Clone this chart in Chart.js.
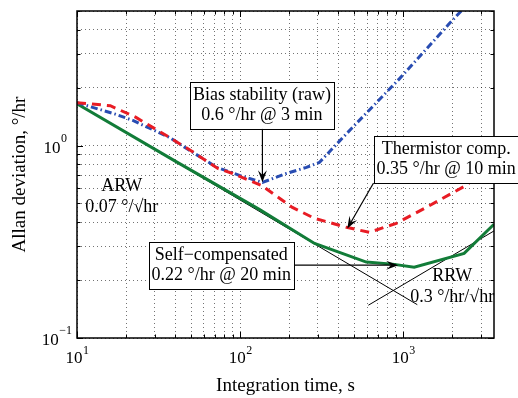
<!DOCTYPE html>
<html>
<head>
<meta charset="utf-8">
<script src="https://cdn.jsdelivr.net/npm/chart.js@4"></script>
<style>
    html, body { margin: 0; padding: 0; background: #fff; }
</style>
</head>
<body>
<canvas id="myChart" width="518" height="398"></canvas>
<script>
// raw gyro (blue dash-dot)
var tauRaw = [10, 17, 22, 37, 47, 72, 99, 137, 192, 255, 306, 448, 946, 1911, 3600];
var sigmaRaw = [1.67, 1.46, 1.35, 1.10, 0.965, 0.77, 0.70, 0.643, 0.716, 0.77, 0.817, 1.15, 2.22, 4.29, 7.6];

// thermistor compensated (red dashed)
var tauTherm = [10, 16, 23, 37, 50, 73, 90, 135, 209, 285, 448, 619, 906, 1383, 2427, 3600];
var sigmaTherm = [1.67, 1.61, 1.40, 1.10, 0.94, 0.76, 0.716, 0.621, 0.477, 0.419, 0.376, 0.354, 0.394, 0.477, 0.621, 0.82];

// self-compensated (green)
var tauSelf = [10, 40, 131, 286, 594, 857, 1167, 2361, 3600];
var sigmaSelf = [1.65, 0.83, 0.466, 0.31, 0.248, 0.242, 0.233, 0.275, 0.39];

// slope lines
var arwTau = [10, 1219];
var arwSigma = [1.65, 0.149];
var rrwTau = [611, 3600];
var rrwSigma = [0.148, 0.36];

// ticks
var xGridTicks = [10, 20, 30, 40, 50, 60, 70, 80, 90, 100, 200, 300, 400, 500, 600, 700, 800, 900, 1000, 2000, 3000];
var yGridTicks = [0.1, 0.2, 0.3, 0.4, 0.5, 0.6, 0.7, 0.8, 0.9, 1, 2, 3, 4, 5];
var xMajor = [10, 100, 1000];
var xExp = ['1', '2', '3'];
var yMajor = [0.1, 1];
var yExp = ['\u22121', '0'];

// annotations
var boxNotes = [
    {lines: ['Bias stability (raw)', '0.6 \u00b0/hr @ 3 min'], at: [136, 1.62], tip: [137, 0.645], from: 'bottom'},
    {lines: ['Thermistor comp.', '0.35 \u00b0/hr @ 10 min'], at: [1833, 0.846], tip: [454, 0.371], from: 'bottomLeft'},
    {lines: ['Self\u2212compensated', '0.22 \u00b0/hr @ 20 min'], at: [76.6, 0.239], tip: [931, 0.239], from: 'right'}
];
var freeNotes = [
    {lines: ['ARW', '0.07 \u00b0/\u221ahr'], at: [18.8, 0.544]},
    {lines: ['RRW', '0.3 \u00b0/hr/\u221ahr'], at: [1995, 0.185]}
];

var serif = '"Liberation Serif", "Times New Roman", serif';

function pts(xs, ys) {
    return xs.map(function (x, i) { return {x: x, y: ys[i]}; });
}

function arrow(ctx, x1, y1, x2, y2) {
    var a = Math.atan2(y2 - y1, x2 - x1), len = 12, w = 4.5;
    ctx.beginPath();
    ctx.moveTo(x1, y1);
    ctx.lineTo(x2 - Math.cos(a) * len * 0.6, y2 - Math.sin(a) * len * 0.6);
    ctx.stroke();
    ctx.beginPath();
    ctx.moveTo(x2, y2);
    ctx.lineTo(x2 - Math.cos(a) * len + Math.sin(a) * w, y2 - Math.sin(a) * len - Math.cos(a) * w);
    ctx.lineTo(x2 - Math.cos(a) * len * 0.6, y2 - Math.sin(a) * len * 0.6);
    ctx.lineTo(x2 - Math.cos(a) * len - Math.sin(a) * w, y2 - Math.sin(a) * len + Math.cos(a) * w);
    ctx.closePath();
    ctx.fill();
}

var decorations = {
    id: 'decorations',
    afterDraw: function (chart) {
        var ctx = chart.ctx, area = chart.chartArea;
        var xs = chart.scales.x, ys = chart.scales.y;
        ctx.save();

        // frame
        ctx.strokeStyle = '#000';
        ctx.lineWidth = 1.5;
        ctx.strokeRect(area.left, area.top, area.right - area.left, area.bottom - area.top);

        // inward ticks
        ctx.lineWidth = 1;
        xGridTicks.forEach(function (v) {
            var px = Math.round(xs.getPixelForValue(v)) + 0.5;
            var l = xMajor.indexOf(v) >= 0 ? 6 : 3.5;
            ctx.beginPath();
            ctx.moveTo(px, area.bottom); ctx.lineTo(px, area.bottom - l);
            ctx.moveTo(px, area.top); ctx.lineTo(px, area.top + l);
            ctx.stroke();
        });
        yGridTicks.forEach(function (v) {
            var py = Math.round(ys.getPixelForValue(v)) + 0.5;
            var l = yMajor.indexOf(v) >= 0 ? 6 : 3.5;
            ctx.beginPath();
            ctx.moveTo(area.left, py); ctx.lineTo(area.left + l, py);
            ctx.moveTo(area.right, py); ctx.lineTo(area.right - l, py);
            ctx.stroke();
        });

        // tick labels 10^n
        ctx.fillStyle = '#000';
        ctx.textBaseline = 'alphabetic';
        xMajor.forEach(function (v, i) {
            var px = xs.getPixelForValue(v);
            ctx.font = '17px ' + serif;
            var wb = ctx.measureText('10').width;
            ctx.font = '12px ' + serif;
            var we = ctx.measureText(xExp[i]).width;
            var x0 = px - (wb + we) / 2;
            ctx.font = '17px ' + serif;
            ctx.textAlign = 'left';
            ctx.fillText('10', x0, area.bottom + 25);
            ctx.font = '12px ' + serif;
            ctx.fillText(xExp[i], x0 + wb + 0.5, area.bottom + 16);
        });
        yMajor.forEach(function (v, i) {
            var py = ys.getPixelForValue(v);
            ctx.font = '12px ' + serif;
            var we = ctx.measureText(yExp[i]).width;
            ctx.textAlign = 'left';
            var xe = area.left - 10 - we + (i === 0 ? 5 : 0);
            ctx.fillText(yExp[i], xe, py - 4);
            ctx.font = '17px ' + serif;
            ctx.textAlign = 'right';
            ctx.fillText('10', xe - 0.5, py + 7);
        });

        // plain text notes
        ctx.font = '18px ' + serif;
        ctx.textAlign = 'center';
        ctx.textBaseline = 'middle';
        freeNotes.forEach(function (n) {
            var cx = xs.getPixelForValue(n.at[0]), cy = ys.getPixelForValue(n.at[1]);
            ctx.fillText(n.lines[0], cx, cy - 10.5);
            ctx.fillText(n.lines[1], cx, cy + 10.5);
        });

        // boxed notes with arrows
        boxNotes.forEach(function (n) {
            var cx = xs.getPixelForValue(n.at[0]), cy = ys.getPixelForValue(n.at[1]);
            var w = Math.max(ctx.measureText(n.lines[0]).width, ctx.measureText(n.lines[1]).width) + 6;
            var h = 47;
            var bx = cx - w / 2, by = cy - h / 2;
            var tx = xs.getPixelForValue(n.tip[0]), ty = ys.getPixelForValue(n.tip[1]);
            var sx, sy;
            if (n.from === 'bottom') { sx = tx; sy = by + h; }
            else if (n.from === 'right') { sx = bx + w; sy = ty; }
            else { sx = bx; sy = by + h; }
            ctx.strokeStyle = '#000';
            ctx.fillStyle = '#000';
            ctx.lineWidth = 1.2;
            arrow(ctx, sx, sy, tx, ty);
            ctx.fillStyle = '#fff';
            ctx.fillRect(bx, by, w, h);
            ctx.lineWidth = 1;
            ctx.strokeRect(Math.round(bx) + 0.5, Math.round(by) + 0.5, Math.round(w), Math.round(h));
            ctx.fillStyle = '#000';
            ctx.fillText(n.lines[0], cx, cy - 10);
            ctx.fillText(n.lines[1], cx, cy + 10);
        });
        ctx.restore();
    }
};

var ctx = document.getElementById('myChart').getContext('2d');

var chart = new Chart(ctx, {
    type: 'line',
    data: {
        datasets: [{
            label: 'Thermistor comp.',
            data: pts(tauTherm, sigmaTherm),
            borderColor: 'rgb(232, 28, 36)',
            borderWidth: 3,
            borderDash: [9, 6],
            order: 0
        }, {
            label: 'Raw',
            data: pts(tauRaw, sigmaRaw),
            borderColor: 'rgb(40, 76, 178)',
            borderWidth: 3,
            borderDash: [7, 3, 1.5, 3],
            order: 1
        }, {
            label: 'Self-compensated',
            data: pts(tauSelf, sigmaSelf),
            borderColor: 'rgb(18, 124, 56)',
            borderWidth: 3,
            order: 2
        }, {
            label: 'ARW',
            data: pts(arwTau, arwSigma),
            borderColor: '#000',
            borderWidth: 1,
            order: 3
        }, {
            label: 'RRW',
            data: pts(rrwTau, rrwSigma),
            borderColor: '#000',
            borderWidth: 1,
            order: 3
        }]
    },
    options: {
        responsive: false,
        animation: false,
        devicePixelRatio: 1,
        layout: {padding: {top: 11, right: 24, left: 0, bottom: 0}},
        elements: {point: {radius: 0}, line: {tension: 0, fill: false}},
        plugins: {legend: {display: false}, tooltip: {enabled: false}},
        scales: {
            x: {
                type: 'logarithmic',
                min: 10,
                max: 3600,
                afterBuildTicks: function (scale) {
                    scale.ticks = xGridTicks.map(function (v) { return {value: v}; });
                },
                afterFit: function (scale) { scale.height = 60; },
                ticks: {display: false},
                grid: {color: 'rgba(0,0,0,0.55)', lineWidth: 1, drawTicks: false},
                border: {display: false, dash: [1, 3]},
                title: {
                    display: true,
                    text: 'Integration time, s',
                    color: '#000',
                    font: {family: serif, size: 19},
                    padding: {top: 0, bottom: 1}
                }
            },
            y: {
                type: 'logarithmic',
                min: 0.1,
                max: 5,
                afterBuildTicks: function (scale) {
                    scale.ticks = yGridTicks.map(function (v) { return {value: v}; });
                },
                afterFit: function (scale) { scale.width = 77; },
                ticks: {display: false},
                grid: {color: 'rgba(0,0,0,0.55)', lineWidth: 1, drawTicks: false},
                border: {display: false, dash: [1, 3]},
                title: {
                    display: true,
                    text: 'Allan deviation, \u00b0/hr',
                    color: '#000',
                    font: {family: serif, size: 19},
                    padding: {top: 9, bottom: 0}
                }
            }
        }
    },
    plugins: [decorations]
});
</script>
</body>
</html>
